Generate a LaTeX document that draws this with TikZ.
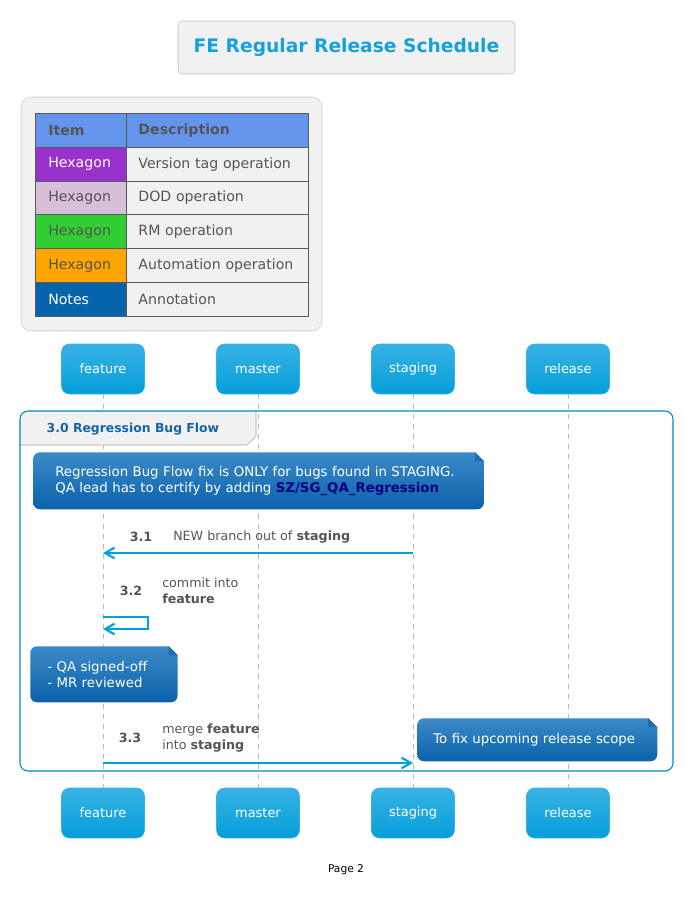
\documentclass[tikz,border=0pt]{standalone}
\usepackage{fontspec}
\setmainfont{DejaVu Sans}
\usetikzlibrary{arrows.meta,positioning}
\definecolor{partTop}{RGB}{56,178,228}
\definecolor{partBot}{RGB}{4,158,218}
\definecolor{noteTop}{RGB}{60,138,200}
\definecolor{noteBot}{RGB}{10,98,170}
\definecolor{noteFold}{RGB}{30,110,182}
\definecolor{msgBlue}{RGB}{0,162,222}
\definecolor{titleBlue}{RGB}{22,160,220}
\definecolor{groupTxt}{RGB}{20,100,170}
\definecolor{txtGray}{RGB}{85,85,85}
\definecolor{boxGray}{RGB}{241,241,241}
\definecolor{lineGray}{RGB}{90,90,90}
\definecolor{headBlue}{RGB}{100,149,237}
\definecolor{tagPurple}{RGB}{153,50,204}
\definecolor{dodThistle}{RGB}{216,191,216}
\definecolor{rmGreen}{RGB}{50,205,50}
\definecolor{autoOrange}{RGB}{255,165,0}
\definecolor{notesBlue}{RGB}{6,100,172}
\definecolor{navyTxt}{RGB}{0,0,128}

\begin{document}
\begin{tikzpicture}[x=0.75pt,y=-0.75pt,node distance=116.25pt,on grid,
    part/.style={rectangle,rounded corners=6pt,minimum width=62.25pt,minimum height=37.5pt,
        top color=partTop,bottom color=partBot,draw=partTop,text=white,font=\fontsize{9.7}{11}\selectfont},
    lifeline/.style={draw=gray!55,dash pattern=on 3.75pt off 3.75pt,line width=0.6pt},
    msg/.style={draw=msgBlue,line width=1.6pt,-{Straight Barb[length=7pt,width=8pt]}},
    itemcell/.style={rectangle,draw=lineGray,line width=0.7pt,anchor=north west,align=left,
        text width=49pt,inner xsep=9.6pt,inner ysep=0pt,minimum height=25.35pt,font=\fontsize{10.6}{12}\selectfont},
    desccell/.style={itemcell,text width=118.5pt,inner xsep=9pt,fill=boxGray,text=txtGray},
    note/.style={rectangle,rounded corners=5pt,top color=noteTop,bottom color=noteBot,text=white,
        anchor=north west,align=left,inner ysep=0pt,font=\fontsize{10}{12}\selectfont},
    lbl/.style={text=txtGray,anchor=west,align=left,inner sep=0pt,font=\fontsize{9.5}{12}\selectfont},
    num/.style={lbl,anchor=center,font=\bfseries\fontsize{9.5}{12}\selectfont}]
\useasboundingbox (0,0) rectangle (683,913);

\node[rectangle,rounded corners=3pt,draw=gray!50,fill=boxGray,minimum width=252.75pt,minimum height=39.75pt,
    text=titleBlue,font=\bfseries\fontsize{14}{16}\selectfont] (title) at (346.5,47.5) {FE Regular Release Schedule};

\draw[draw=gray!40,fill=boxGray,rounded corners=7.5pt] (21,97) rectangle (322,331);
\node[itemcell,fill=headBlue,text=txtGray,font=\bfseries\fontsize{10.6}{12}\selectfont] (item0) at (35,113) {Item};
\node[desccell,fill=headBlue,font=\bfseries\fontsize{10.6}{12}\selectfont] (desc0) at (126,113) {Description};
\foreach \i/\c/\t/\a/\b in {1/tagPurple/white/Hexagon/Version tag operation,
        2/dodThistle/txtGray/Hexagon/DOD operation,
        3/rmGreen/txtGray/Hexagon/RM operation,
        4/autoOrange/txtGray/Hexagon/Automation operation,
        5/notesBlue/white/Notes/Annotation}{
    \node[itemcell,fill=\c,text=\t] (item\i) at (35,113+33.8*\i) {\a};
    \node[desccell] (desc\i) at (126,113+33.8*\i) {\b};
}

\node[part] (feature) at (103,369) {feature};
\node[part,right=of feature] (master) {master};
\node[part,right=of master] (staging) {staging};
\node[part,right=of staging] (release) {release};
\node[part,below=333pt of feature] (featureB) {feature};
\node[part,below=333pt of master] (masterB) {master};
\node[part,below=333pt of staging] (stagingB) {staging};
\node[part,below=333pt of release] (releaseB) {release};
\path[lifeline] (feature) edge (featureB) (master) edge (masterB)
    (staging) edge (stagingB) (release) edge (releaseB);

\fill[boxGray] (20,445) -- (20,417) to[out=90,in=180] (26,411) -- (256,411) -- (256,436) -- (247,445) -- cycle;
\draw[gray!70] (20,445) -- (247,445) -- (256,436) -- (256,411);
\draw[draw=msgBlue!85!black,line width=0.8pt,rounded corners=6pt] (20,411) rectangle (673,771);
\node[anchor=west,text=groupTxt,font=\bfseries\fontsize{9.3}{12}\selectfont] (grp) at (42,429) {3.0 Regression Bug Flow};

\node[note,text width=305pt,inner xsep=16.5pt,minimum height=42.75pt] (note1) at (33,452)
    {Regression Bug Flow fix is ONLY for bugs found in STAGING.\\
     QA lead has to certify by adding \textbf{\color{navyTxt}SZ/SG\_QA\_Regression}};

\coordinate (y31) at (0,553);
\node[num] (n31) at (141,537) {3.1};
\node[lbl] (l31) at (173,537) {NEW branch out of \textbf{staging}};
\draw[msg] (staging |- y31) -- (feature |- y31);

\coordinate (y32) at (0,617);
\node[num] (n32) at (131,591) {3.2};
\node[lbl] (l32) at (162,591) {commit into\\\textbf{feature}};
\draw[msg] (feature |- y32) -- ++(45,0) -- ++(0,12) -- ++(-45,0);

\node[note,text width=85pt,inner xsep=12.75pt,minimum height=42pt] (note2) at (30,646)
    {- QA signed-off\\- MR reviewed};

\coordinate (y33) at (0,763);
\node[num] (n33) at (130,738) {3.3};
\node[lbl] (l33) at (162,738) {merge \textbf{feature}\\into \textbf{staging}};
\draw[msg] (feature |- y33) -- (staging |- y33);

\node[note,text width=156pt,inner xsep=12pt,minimum height=32.25pt] (note3) at (417,718)
    {To fix upcoming release scope};

\foreach \n in {note1,note2,note3}{
    \fill[white] ([xshift=-7pt]\n.north east) -- (\n.north east) -- ([yshift=-7pt]\n.north east) -- cycle;
    \fill[noteFold] ([xshift=-7pt]\n.north east) -- ([xshift=-7pt,yshift=-7pt]\n.north east) -- ([yshift=-7pt]\n.north east) -- cycle;
}

\node[font=\fontsize{8}{9}\selectfont] (page) at (346,870) {Page 2};
\end{tikzpicture}
\end{document}
